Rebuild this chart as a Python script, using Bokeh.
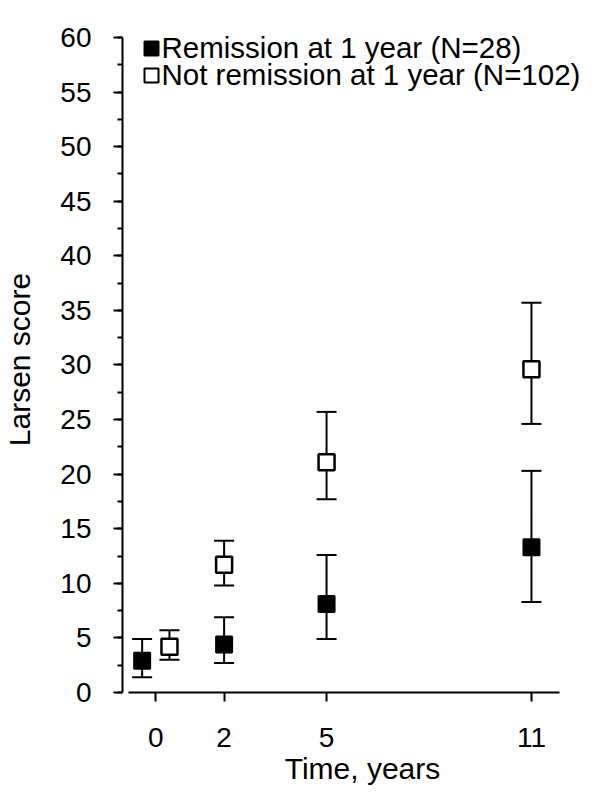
from bokeh.plotting import figure
from bokeh.models import (ColumnDataSource, Whisker, TeeHead, FixedTicker,
                          SingleIntervalTicker, Range1d, Label, BoxAnnotation)
from bokeh.embed import file_html
from bokeh.resources import INLINE

# ---- data ----
time_years = [0, 2, 5, 11]
time_tick_labels = ["0", "2", "5", "11"]

remission_mean = [2.9, 4.4, 8.1, 13.3]
remission_lower = [1.4, 2.7, 4.9, 8.3]
remission_upper = [4.9, 6.9, 12.6, 20.3]

not_remission_mean = [4.2, 11.7, 21.1, 29.6]
not_remission_lower = [3.0, 9.8, 17.7, 24.6]
not_remission_upper = [5.7, 13.9, 25.7, 35.7]

series_labels = ["Remission at 1 year (N=28)", "Not remission at 1 year (N=102)"]
series_fills = ["black", "white"]

# small horizontal dodge at baseline so the two groups don't overlap
BASE_DODGE = 0.4


def dodged(times, sign):
    return [t + sign * BASE_DODGE if t == 0 else t for t in times]


src_rem = ColumnDataSource(dict(x=dodged(time_years, -1), y=remission_mean,
                                lo=remission_lower, hi=remission_upper))
src_non = ColumnDataSource(dict(x=dodged(time_years, +1), y=not_remission_mean,
                                lo=not_remission_lower, hi=not_remission_upper))

FONT = "Liberation Sans"

p = figure(frame_width=480, frame_height=666,
           x_range=Range1d(-0.975, 13.08), y_range=Range1d(0, 61),
           output_backend="svg", toolbar_location=None,
           min_border_left=120, min_border_top=26, min_border_right=0,
           min_border_bottom=95)
p.xgrid.visible = False
p.ygrid.visible = False
p.outline_line_color = None
p.background_fill_color = "white"
p.border_fill_color = "white"

# error bars
for src in (src_rem, src_non):
    w = Whisker(base="x", lower="lo", upper="hi", source=src, dimension="height",
                line_color="black", line_width=2,
                upper_head=TeeHead(size=20, line_color="black", line_width=2),
                lower_head=TeeHead(size=20, line_color="black", line_width=2))
    p.add_layout(w)

r_rem = p.scatter("x", "y", source=src_rem, marker="square", size=16,
                  fill_color="black", line_color="black", line_width=2)
r_non = p.scatter("x", "y", source=src_non, marker="square", size=16,
                  fill_color="white", line_color="black", line_width=2.5)

# axes
xa = p.xaxis[0]
ya = p.yaxis[0]
xa.ticker = FixedTicker(ticks=time_years)
xa.major_label_overrides = {t: s for t, s in zip(time_years, time_tick_labels)}
xa.bounds = (-0.8, 11.81)
xa.minor_tick_line_color = None
xa.axis_label = "Time, years"

ya.ticker = SingleIntervalTicker(interval=5, num_minor_ticks=2)
ya.bounds = (0, 60)
ya.minor_tick_in = 0
ya.minor_tick_out = 5
ya.minor_tick_line_width = 2
ya.minor_tick_line_color = "black"
ya.axis_label = "Larsen score"

for ax in (xa, ya):
    ax.axis_line_width = 2
    ax.axis_line_color = "black"
    ax.major_tick_line_width = 2
    ax.major_tick_line_color = "black"
    ax.major_tick_in = 0
    ax.major_tick_out = 9
    ax.major_label_text_font = FONT
    ax.major_label_text_font_size = "28px"
    ax.major_label_text_color = "black"
    ax.axis_label_text_font = FONT
    ax.axis_label_text_font_size = "30px"
    ax.axis_label_text_font_style = "normal"
    ax.axis_label_text_color = "black"

xa.major_label_standoff = 26
xa.axis_label_standoff = 2
ya.major_label_standoff = 22
ya.axis_label_standoff = 21

# legend, drawn in screen units relative to the plot frame (bottom-left origin)
LEG_BOX_LEFT, LEG_BOX_SIZE = 22, 14
LEG_TEXT_X = 39
LEG_ROW_BASELINE = [645, 618]
LEG_ROW_CENTER = [644, 617]
for lab, fill, yb, yc in zip(series_labels, series_fills, LEG_ROW_BASELINE, LEG_ROW_CENTER):
    p.add_layout(BoxAnnotation(left=LEG_BOX_LEFT, right=LEG_BOX_LEFT + LEG_BOX_SIZE,
                               bottom=yc - LEG_BOX_SIZE / 2, top=yc + LEG_BOX_SIZE / 2,
                               left_units="screen", right_units="screen",
                               bottom_units="screen", top_units="screen",
                               fill_color=fill, fill_alpha=1.0,
                               line_color="black", line_width=2, line_alpha=1.0))
    p.add_layout(Label(x=LEG_TEXT_X, y=yb, x_units="screen", y_units="screen",
                       text=lab, text_font=FONT, text_font_size="29.5px",
                       text_color="black", text_baseline="alphabetic"))

open("out.html", "w").write(file_html(p, INLINE))
